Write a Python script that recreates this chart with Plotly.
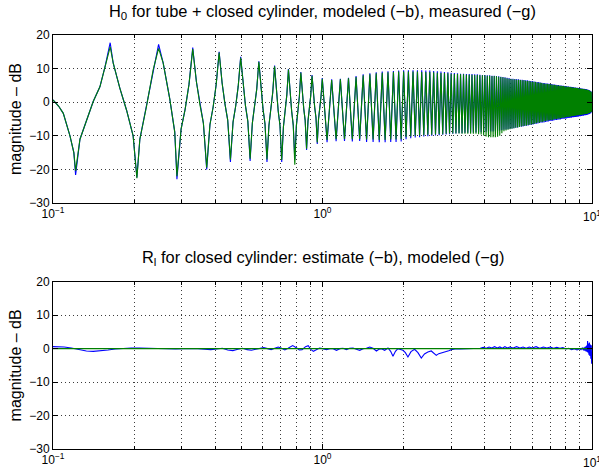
import plotly.graph_objects as go
from plotly.subplots import make_subplots

# ---------------- top panel: H0, resonance extrema ----------------
start_f, start_db = 0.1, 0.7
end_f, end_db = 10.0, 0.0

peak_f = [
    0.163, 0.2465, 0.330, 0.4135, 0.497, 0.5805, 0.664, 0.7475, 0.831, 0.9145,
    0.998, 1.0815, 1.165, 1.2485, 1.332, 1.4155, 1.499, 1.5825, 1.666, 1.7495,
    1.833, 1.9165, 2.000, 2.0835, 2.167, 2.2505, 2.334, 2.4175, 2.501, 2.5845,
    2.668, 2.7515, 2.835, 2.9185, 3.002, 3.0855, 3.169, 3.2525, 3.336, 3.4195,
    3.503, 3.5865, 3.670, 3.7535, 3.837, 3.9205, 4.004, 4.0875, 4.171, 4.2545,
    4.338, 4.4215, 4.505, 4.5885, 4.672, 4.7555, 4.839, 4.9225, 5.006, 5.0895,
    5.173, 5.2565, 5.340, 5.4235, 5.507, 5.5905, 5.674, 5.7575, 5.841, 5.9245,
    6.008, 6.0915, 6.175, 6.2585, 6.342, 6.4255, 6.509, 6.5925, 6.676, 6.7595,
    6.843, 6.9265, 7.010, 7.0935, 7.177, 7.2605, 7.344, 7.4275, 7.511, 7.5945,
    7.678, 7.7615, 7.845, 7.9285, 8.012, 8.0955, 8.179, 8.2625, 8.346, 8.4295,
    8.513, 8.5965, 8.680, 8.7635, 8.847, 8.9305, 9.014, 9.0975, 9.181, 9.2645,
    9.348, 9.4315, 9.515, 9.5985, 9.682, 9.7655, 9.849, 9.9325,
]
peak_model = [
    17.7, 17.2, 16.3, 15.0, 13.5, 12.2, 10.9, 9.9, 9.0, 8.1,
    7.2, 6.8, 7.0, 7.3, 7.8, 8.3, 8.6, 8.9, 9.1, 9.2,
    9.3, 9.4, 9.5, 9.5, 9.5, 9.5, 9.5, 9.4, 9.4, 9.3,
    9.2, 9.1, 9.0, 8.9, 8.8, 8.7, 8.6, 8.5, 8.5, 8.4,
    8.4, 8.4, 8.3, 8.3, 8.2, 8.1, 8.1, 8.0, 8.0, 7.9,
    7.9, 7.8, 7.7, 7.6, 7.5, 7.4, 7.3, 7.2, 7.0, 7.0,
    6.9, 6.9, 6.8, 6.7, 6.7, 6.6, 6.5, 6.5, 6.4, 6.3,
    6.3, 6.2, 6.1, 6.0, 6.0, 5.9, 5.8, 5.7, 5.7, 5.6,
    5.6, 5.5, 5.4, 5.4, 5.3, 5.3, 5.2, 5.1, 5.1, 5.0,
    5.0, 4.9, 4.9, 4.8, 4.8, 4.7, 4.7, 4.6, 4.6, 4.5,
    4.5, 4.4, 4.4, 4.3, 4.3, 4.2, 4.2, 4.1, 4.1, 4.0,
    4.0, 3.9, 3.9, 3.8, 3.7, 3.6, 3.4, 3.2,
]
peak_meas = [
    16.5, 16.0, 15.8, 14.8, 13.2, 12.0, 10.7, 9.7, 8.8, 7.9,
    7.0, 6.6, 6.8, 7.1, 7.5, 8.0, 8.3, 8.6, 8.8, 8.9,
    9.0, 9.1, 9.1, 9.1, 9.1, 9.1, 9.0, 9.0, 9.0, 8.9,
    8.8, 8.7, 8.7, 8.6, 8.5, 8.4, 8.4, 8.3, 8.3, 8.2,
    8.2, 8.2, 8.1, 8.1, 8.0, 8.0, 8.0, 7.9, 7.9, 7.8,
    7.8, 7.7, 7.6, 7.5, 7.4, 7.3, 7.1, 7.0, 6.9, 6.8,
    6.8, 6.7, 6.7, 6.6, 6.5, 6.5, 6.4, 6.3, 6.3, 6.2,
    6.1, 6.1, 6.0, 5.9, 5.8, 5.8, 5.7, 5.6, 5.5, 5.5,
    5.4, 5.4, 5.3, 5.3, 5.2, 5.1, 5.1, 5.0, 5.0, 4.9,
    4.9, 4.8, 4.8, 4.7, 4.7, 4.6, 4.6, 4.5, 4.5, 4.4,
    4.4, 4.3, 4.3, 4.2, 4.2, 4.1, 4.1, 4.0, 4.0, 3.9,
    3.9, 3.8, 3.8, 3.7, 3.6, 3.5, 3.3, 3.1,
]
trough_f = [
    0.1213, 0.2048, 0.2883, 0.3718, 0.4553, 0.5388, 0.6223, 0.7058, 0.7893, 0.8728,
    0.9563, 1.0398, 1.1233, 1.2068, 1.2903, 1.3738, 1.4573, 1.5408, 1.6243, 1.7078,
    1.7913, 1.8748, 1.9583, 2.0418, 2.1253, 2.2088, 2.2923, 2.3758, 2.4593, 2.5428,
    2.6263, 2.7098, 2.7933, 2.8768, 2.9603, 3.0438, 3.1273, 3.2108, 3.2943, 3.3778,
    3.4613, 3.5448, 3.6283, 3.7118, 3.7953, 3.8788, 3.9623, 4.0458, 4.1293, 4.2128,
    4.2963, 4.3798, 4.4633, 4.5468, 4.6303, 4.7138, 4.7973, 4.8808, 4.9643, 5.0478,
    5.1313, 5.2148, 5.2983, 5.3818, 5.4653, 5.5488, 5.6323, 5.7158, 5.7993, 5.8828,
    5.9663, 6.0498, 6.1333, 6.2168, 6.3003, 6.3838, 6.4673, 6.5508, 6.6343, 6.7178,
    6.8013, 6.8848, 6.9683, 7.0518, 7.1353, 7.2188, 7.3023, 7.3858, 7.4693, 7.5528,
    7.6363, 7.7198, 7.8033, 7.8868, 7.9703, 8.0538, 8.1373, 8.2208, 8.3043, 8.3878,
    8.4713, 8.5548, 8.6383, 8.7218, 8.8053, 8.8888, 8.9723, 9.0558, 9.1393, 9.2228,
    9.3063, 9.3898, 9.4733, 9.5568, 9.6403, 9.7238, 9.8073, 9.8908, 9.9743,
]
trough_model = [
    -21.6, -22.4, -22.9, -20.0, -17.8, -17.5, -17.8, -17.8, -17.0, -14.2,
    -12.4, -11.9, -11.6, -11.5, -11.7, -11.5, -11.8, -11.8, -11.9, -11.9,
    -11.8, -11.8, -11.7, -11.0, -10.7, -10.5, -10.4, -10.2, -10.1, -10.0,
    -9.9, -9.8, -9.7, -9.6, -9.5, -9.4, -9.3, -9.2, -9.2, -9.1,
    -9.1, -9.0, -9.0, -9.0, -8.9, -8.9, -8.9, -8.8, -8.8, -8.7,
    -8.7, -8.6, -8.5, -8.4, -8.3, -8.2, -8.1, -8.0, -7.9, -7.8,
    -7.7, -7.6, -7.5, -7.4, -7.3, -7.2, -7.1, -7.0, -6.9, -6.8,
    -6.7, -6.6, -6.5, -6.4, -6.3, -6.2, -6.1, -6.0, -6.0, -5.9,
    -5.8, -5.7, -5.6, -5.6, -5.5, -5.4, -5.3, -5.3, -5.2, -5.1,
    -5.1, -5.0, -4.9, -4.9, -4.8, -4.8, -4.7, -4.7, -4.6, -4.6,
    -4.5, -4.5, -4.4, -4.4, -4.3, -4.3, -4.2, -4.2, -4.1, -4.0,
    -4.0, -3.9, -3.9, -3.8, -3.7, -3.6, -3.5, -3.3, -3.0,
]
trough_meas = [
    -20.4, -22.6, -22.0, -19.5, -17.0, -16.8, -17.0, -17.2, -18.6, -13.8,
    -12.0, -11.2, -11.0, -10.9, -11.0, -10.9, -11.1, -11.1, -11.2, -11.2,
    -11.1, -11.1, -11.0, -10.4, -10.2, -10.0, -9.9, -9.8, -9.7, -9.7,
    -9.6, -9.5, -9.5, -9.4, -9.3, -9.3, -9.3, -9.3, -9.4, -9.4,
    -9.4, -9.4, -9.4, -9.4, -9.5, -9.6, -9.9, -10.2, -10.4, -10.4,
    -10.4, -10.4, -10.3, -10.0, -9.2, -8.6, -8.4, -8.2, -8.0, -7.9,
    -7.7, -7.6, -7.5, -7.4, -7.2, -7.1, -7.0, -6.9, -6.8, -6.7,
    -6.6, -6.5, -6.4, -6.2, -6.1, -6.0, -5.9, -5.8, -5.7, -5.6,
    -5.5, -5.4, -5.3, -5.3, -5.2, -5.1, -5.0, -5.0, -4.9, -4.8,
    -4.8, -4.7, -4.6, -4.6, -4.5, -4.4, -4.4, -4.3, -4.3, -4.2,
    -4.1, -4.1, -4.0, -4.0, -3.9, -3.9, -3.8, -3.8, -3.7, -3.7,
    -3.6, -3.6, -3.5, -3.5, -3.4, -3.3, -3.2, -3.0, -2.8,
]
# flank points of the resolved low-frequency resonances
shape_f = [
    0.105, 0.1092, 0.1156, 0.1195,
    0.1259, 0.1333, 0.141, 0.1493, 0.156,
    0.1673, 0.177, 0.1874, 0.1983,
    0.21, 0.2222, 0.2353,
    0.2563, 0.2713, 0.283,
    0.2987, 0.3092, 0.3196,
    0.3405, 0.351, 0.3614,
    0.3822, 0.3927, 0.4031,
    0.424, 0.4344, 0.4449,
    0.4657, 0.4762, 0.4866,
    0.5075, 0.5179, 0.5284,
    0.5492, 0.5597, 0.5701,
    0.5909, 0.6014, 0.6118,
    0.6327, 0.6432, 0.6536,
    0.6745, 0.6849, 0.6954,
    0.7162, 0.7267, 0.7371,
    0.758, 0.7684, 0.7789,
    0.7997, 0.8102, 0.8206,
    0.8415, 0.8519, 0.8624,
    0.8832, 0.8937, 0.9041,
    0.925, 0.9354, 0.9459,
    0.9667, 0.9772, 0.9876,
]
shape_db = [
    -1.2, -3.3, -10.0, -15.0,
    -11.0, -5.2, 0.2, 4.6, 10.6,
    11.6, 4.2, -2.3, -10.0,
    -11.0, -1.3, 9.6,
    11.7, 0.9, -8.9,
    -8.0, -2.1, 5.3,
    6.1, -0.8, -6.2,
    -6.7, -1.5, 5.2,
    5.8, -0.4, -5.3,
    -5.9, -1.2, 4.7,
    4.8, -1.1, -5.7,
    -6.2, -1.8, 3.9,
    3.8, -1.9, -6.4,
    -6.9, -2.6, 2.9,
    2.9, -2.6, -6.9,
    -7.3, -3.1, 2.1,
    2.4, -2.7, -6.8,
    -7.1, -3.2, 1.7,
    2.5, -1.9, -5.4,
    -5.7, -2.4, 1.9,
    2.4, -1.5, -4.6,
    -5.0, -2.0, 1.7,
]

# ---------------- bottom panel: R_l ----------------
rl_model_f = [0.1, 10.0]
rl_model_db = [0.0, 0.0]
rl_est_f = [
    0.100, 0.105, 0.110, 0.117, 0.125, 0.133, 0.141, 0.150, 0.160, 0.170,
    0.180, 0.195, 0.210, 0.225, 0.245, 0.265, 0.285, 0.305, 0.325, 0.345,
    0.365, 0.385, 0.405, 0.425, 0.445, 0.465, 0.485, 0.505, 0.525, 0.545,
    0.565, 0.585, 0.605, 0.625, 0.645, 0.665, 0.685, 0.705, 0.725, 0.745,
    0.775, 0.800, 0.820, 0.840, 0.865, 0.885, 0.905, 0.925, 0.950, 0.975,
    1.000, 1.035, 1.065, 1.095, 1.127, 1.160, 1.192, 1.227, 1.260, 1.298,
    1.335, 1.374, 1.415, 1.455, 1.497, 1.540, 1.585, 1.620, 1.654, 1.701,
    1.750, 1.790, 1.826, 1.865, 1.905, 1.950, 1.989, 2.030, 2.075, 2.130,
    2.197, 2.260, 2.326, 2.390, 2.460, 2.533, 2.590, 2.644, 2.700, 2.759,
    2.820, 2.880, 2.940, 3.005, 3.100, 3.250, 3.400, 3.550, 3.700, 3.850,
    3.950, 4.050, 4.150, 4.250, 4.350, 4.450, 4.550, 4.650, 4.750, 4.850,
    4.950, 5.100, 5.250, 5.400, 5.550, 5.700, 5.850, 6.000, 6.200, 6.400,
    6.600, 6.800, 7.000, 7.200, 7.400, 7.600, 7.800, 8.000, 8.200, 8.400,
    8.600, 8.800, 9.000, 9.100, 9.200, 9.300, 9.350, 9.400, 9.450, 9.500,
    9.550, 9.600, 9.630, 9.670, 9.700, 9.740, 9.780, 9.820, 9.860, 9.900,
    9.940, 9.970, 10.000,
]
rl_est_db = [
    0.6, 0.6, 0.5, 0.2, -0.3, -0.7, -0.8, -0.7, -0.4, -0.1,
    0.1, 0.2, 0.2, 0.1, 0.0, -0.1, -0.1, 0.0, 0.1, 0.0,
    -0.2, -0.3, -0.1, 0.1, -0.4, -0.6, -0.2, 0.1, -0.3, -0.5,
    -0.2, 0.1, 0.3, 0.0, -0.3, 0.1, 0.5, 0.1, -0.4, 0.1,
    0.9, 0.3, -0.4, -0.3, 0.6, 0.9, -0.2, -0.8, -0.2, 0.2,
    0.0, -0.3, 0.0, 0.0, -0.5, 0.0, 0.1, -0.3, 0.1, 0.2,
    -0.2, -0.5, 0.0, 0.1, 0.5, 0.1, -0.7, -0.2, 0.0, -0.5,
    0.2, -0.8, -2.3, -0.8, 0.0, -0.3, -0.5, -1.2, -2.5, -0.9,
    -0.2, -1.2, -2.8, -1.6, -1.0, -0.7, -1.3, -2.0, -1.5, -1.3,
    -1.2, -1.0, -0.6, -0.3, -0.1, -0.1, 0.0, -0.1, 0.0, 0.1,
    0.4, 0.1, 0.5, 0.2, 0.6, 0.2, 0.5, 0.1, 0.6, 0.2,
    0.5, 0.2, 0.6, 0.2, 0.5, 0.1, 0.5, 0.2, 0.6, 0.1,
    0.5, 0.2, 0.5, 0.1, 0.4, 0.1, 0.3, -0.1, 0.1, -0.3,
    0.0, -0.4, 0.0, -0.3, 0.2, -0.5, 0.4, -0.6, 0.6, -0.8,
    0.9, -1.0, 2.3, -1.2, 1.5, -1.8, 1.8, -2.2, 1.2, -3.0,
    1.0, -4.5, -1.0,
]

# ---------------- assemble top series ----------------
def merged(extra_db_peak, extra_db_trough):
    pts = [(start_f, start_db), (end_f, end_db)]
    pts += list(zip(shape_f, shape_db))
    pts += list(zip(peak_f, extra_db_peak))
    pts += list(zip(trough_f, extra_db_trough))
    pts.sort(key=lambda p: p[0])
    return [p[0] for p in pts], [p[1] for p in pts]

h_model_f, h_model_db = merged(peak_model, trough_model)
h_meas_f, h_meas_db = merged(peak_meas, trough_meas)

BLUE = "#0000ff"
GREEN = "#008000"
FONT = "Liberation Sans, Arial, Helvetica, sans-serif"

fig = make_subplots(rows=2, cols=1, vertical_spacing=0.19)
fig.add_trace(go.Scatter(x=h_model_f, y=h_model_db, mode="lines",
                         line=dict(color=BLUE, width=1.1)), row=1, col=1)
fig.add_trace(go.Scatter(x=h_meas_f, y=h_meas_db, mode="lines",
                         line=dict(color=GREEN, width=1.1)), row=1, col=1)
fig.add_trace(go.Scatter(x=rl_est_f, y=rl_est_db, mode="lines",
                         line=dict(color=BLUE, width=1.1)), row=2, col=1)
fig.add_trace(go.Scatter(x=rl_model_f, y=rl_model_db, mode="lines",
                         line=dict(color=GREEN, width=1.1)), row=2, col=1)

x_major = [0.1, 1, 10]
x_major_text = ["10<sup>−1</sup>", "10<sup>0</sup>", "10<sup>1</sup>"]
x_minor = [0.2, 0.3, 0.4, 0.5, 0.6, 0.7, 0.8, 0.9, 2, 3, 4, 5, 6, 7, 8, 9]
y_ticks = [-30, -20, -10, 0, 10, 20]

GRID = "#3c3c3c"
DASH = "1px,3px"
xax = dict(type="log", range=[-1, 1], tickmode="array", tickvals=x_major,
           ticktext=x_major_text, ticks="inside", ticklen=5, tickcolor="black",
           showline=True, linecolor="black", linewidth=1, mirror="ticks",
           showgrid=True, gridcolor=GRID, griddash=DASH, gridwidth=1,
           zeroline=False, tickfont=dict(size=12, color="black", family=FONT),
           minor=dict(tickmode="array", tickvals=x_minor, ticks="inside", ticklen=3,
                      tickcolor="black", showgrid=True, gridcolor=GRID,
                      griddash=DASH, gridwidth=1))
yax = dict(range=[-30, 20], tickmode="array", tickvals=y_ticks, ticks="inside",
           ticklen=5, tickcolor="black", showline=True, linecolor="black",
           linewidth=1, mirror="ticks", showgrid=True, gridcolor=GRID,
           griddash=DASH, gridwidth=1, zeroline=False,
           tickfont=dict(size=12, color="black", family=FONT))

fig.update_layout(
    width=599, height=473, showlegend=False,
    paper_bgcolor="white", plot_bgcolor="white",
    margin=dict(l=53, r=6, t=35, b=22),
    font=dict(family=FONT, color="black"),
    xaxis=dict(xax, domain=[0, 1]),
    xaxis2=dict(xax, domain=[0, 1]),
    yaxis=dict(yax, domain=[0.594, 1.0]),
    yaxis2=dict(yax, domain=[0.0, 0.404]),
)

ann = [
    dict(text="H<sub>0</sub> for tube + closed cylinder, modeled (−b), measured (−g)",
         x=0.5, y=1.055, xref="paper", yref="paper", showarrow=False,
         xanchor="center", yanchor="middle", font=dict(size=16.4, family=FONT)),
    dict(text="R<sub>l</sub> for closed cylinder: estimate (−b), modeled (−g)",
         x=0.5, y=0.462, xref="paper", yref="paper", showarrow=False,
         xanchor="center", yanchor="middle", font=dict(size=16.4, family=FONT)),
    dict(text="magnitude – dB", x=-0.0704, y=0.797, xref="paper", yref="paper",
         showarrow=False, textangle=-90, xanchor="center", yanchor="middle",
         font=dict(size=16, family=FONT)),
    dict(text="magnitude – dB", x=-0.0704, y=0.202, xref="paper", yref="paper",
         showarrow=False, textangle=-90, xanchor="center", yanchor="middle",
         font=dict(size=16, family=FONT)),
    # right-most decade labels, which run past the figure edge as in the original
    dict(text=x_major_text[2], x=1, xref="x", y=0.594 - 3 / 416, yref="paper",
         showarrow=False, xanchor="center", yanchor="top",
         font=dict(size=12, family=FONT)),
    dict(text=x_major_text[2], x=1, xref="x2", y=-3 / 416, yref="paper",
         showarrow=False, xanchor="center", yanchor="top",
         font=dict(size=12, family=FONT)),
]
fig.update_layout(annotations=ann)

fig.write_html("out.html", config={"displayModeBar": False},
               post_script="document.body.style.margin='0';document.body.style.padding='0';")
